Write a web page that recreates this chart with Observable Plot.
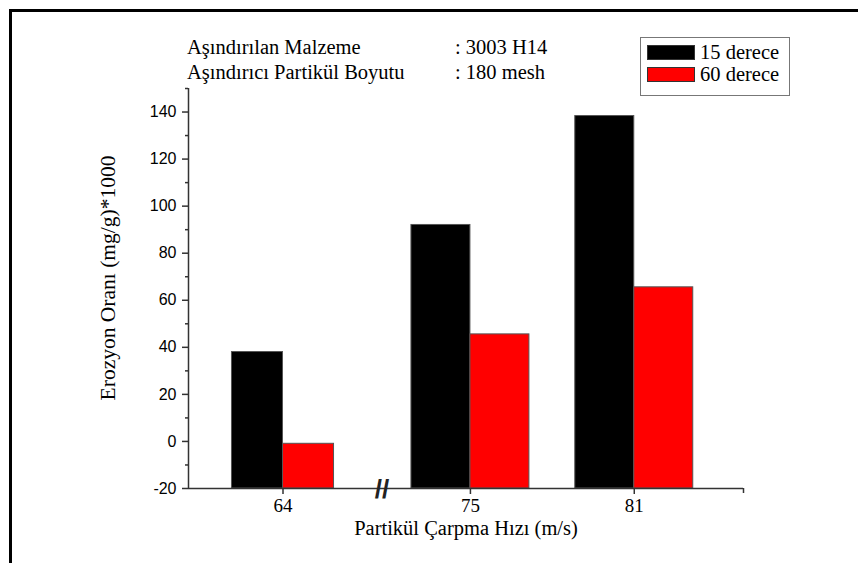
<!DOCTYPE html>
<html>
<head>
<meta charset="utf-8">
<script src="https://cdn.jsdelivr.net/npm/d3@7"></script>
<script src="https://cdn.jsdelivr.net/npm/@observablehq/plot@0.6"></script>
<style>
  body { margin: 0; background: #fff; }
  #wrap { position: relative; width: 859px; height: 563px; overflow: hidden; background: #fff;
          font-family: "Liberation Serif", "Times New Roman", serif; color: #000; }
  #wrap svg { position: absolute; left: 0; top: 0; }
  .frame-top { position: absolute; left: 9px; top: 9px; width: 849px; height: 3px; background: #000; }
  .frame-left { position: absolute; left: 9px; top: 9px; width: 3px; height: 554px; background: #000; }
  .note { position: absolute; font-size: 20.5px; line-height: 25px; white-space: nowrap; }
  .legend { position: absolute; left: 640px; top: 37px; width: 148px; height: 57px; border: 1px solid #777; background: #fff; }
  .legend .item { position: absolute; left: 6px; height: 16px; display: flex; align-items: center; font-size: 20.5px; white-space: nowrap; }
  .legend .sw { width: 46px; height: 13px; border: 1px solid #333; margin-right: 5px; }
  .title-x { position: absolute; left: 0; width: 932px; top: 517px; text-align: center; font-size: 20.5px; line-height: 22px; white-space: nowrap; }
  .title-y { position: absolute; left: 108px; top: 278px; font-size: 21.5px; white-space: nowrap;
             transform: translate(-50%, -50%) rotate(-90deg); }
</style>
</head>
<body>
<div id="wrap">
  <div class="frame-top"></div>
  <div class="frame-left"></div>
</div>
<script>
// Impact speeds (m/s) and the two impingement angles
const speeds = [64, 75, 81];
const angles = ["15 derece", "60 derece"];
const erosion15 = [38, 92, 138.3];
const erosion60 = [-1, 45.5, 65.5];
const colors = ["#000000", "#ff0000"];

const yTicks = [-20, 0, 20, 40, 60, 80, 100, 120, 140];
const yMinor = [-10, 10, 30, 50, 70, 90, 110, 130, 150];
const xTicks = speeds;

const noteLabels = ["Aşındırılan Malzeme", "Aşındırıcı Partikül Boyutu"];
const noteValues = [": 3003 H14", ": 180 mesh"];
const xTitle = "Partikül Çarpma Hızı (m/s)";
const yTitle = "Erozyon Oranı (mg/g)*1000";

// Bar width in speed units; the 15° bar sits left of the tick, the 60° bar right of it
const barW = 2.16;
const yBase = -20;

const rows = speeds.flatMap((s, i) => [
  {speed: s, angle: angles[0], value: erosion15[i], x1: s - barW, x2: s},
  {speed: s, angle: angles[1], value: erosion60[i], x1: s, x2: s + barW}
]);

const serif = "Liberation Serif, Times New Roman, serif";
const sans = "Liberation Sans, Arial, sans-serif";
const axisColor = "#333";

// Broken x axis: 60–68 and 72–85 mapped piecewise, the gap marked with //
const chart = Plot.plot({
  width: 859,
  height: 563,
  marginLeft: 188,
  marginRight: 116,
  marginTop: 88,
  marginBottom: 75,
  style: {background: "transparent", overflow: "visible"},
  x: {type: "linear", domain: [60, 68, 72, 85], range: [188, 377, 388, 743]},
  y: {domain: [yBase, 150]},
  color: {domain: angles, range: colors},
  marks: [
    Plot.rectY(rows, {x1: "x1", x2: "x2", y1: yBase, y2: "value", fill: "angle", stroke: "#555", strokeWidth: 1}),
    Plot.ruleY([yBase], {x1: 60, x2: 85, stroke: axisColor, strokeWidth: 1.5}),
    Plot.ruleX([60], {y1: yBase, y2: 150, stroke: axisColor, strokeWidth: 1.5}),
    Plot.axisY({ticks: yTicks, tickSize: 6, tickPadding: 6, tickFormat: d => String(d),
                fontSize: 16, fontFamily: sans, label: null, stroke: axisColor, strokeWidth: 1.5, color: "#000"}),
    Plot.axisY({ticks: yMinor, tickSize: 3, text: null, label: null, stroke: axisColor, strokeWidth: 1.5}),
    Plot.axisX({ticks: xTicks, tickSize: 6, tickPadding: 4, tickFormat: d => String(d),
                fontSize: 19, fontFamily: serif, label: null, stroke: axisColor, strokeWidth: 1.5, color: "#000"}),
    Plot.axisX({ticks: [85], tickSize: 5, text: null, label: null, stroke: axisColor, strokeWidth: 1.5}),
    Plot.text([69.6], {x: d => d, y: yBase, text: () => "//", fontSize: 26, fontWeight: 600,
                       fontFamily: sans, fill: "#222", dy: 1})
  ]
});

const wrap = document.getElementById("wrap");
wrap.appendChild(chart);

// Material / particle notes above the plot
noteLabels.forEach((t, i) => {
  const a = document.createElement("div");
  a.className = "note";
  a.style.left = "187px";
  a.style.top = (35 + i * 25) + "px";
  a.textContent = t;
  wrap.appendChild(a);
  const b = document.createElement("div");
  b.className = "note";
  b.style.left = "455px";
  b.style.top = (35 + i * 25) + "px";
  b.textContent = noteValues[i];
  wrap.appendChild(b);
});

// Legend box
const legend = document.createElement("div");
legend.className = "legend";
angles.forEach((a, i) => {
  const item = document.createElement("div");
  item.className = "item";
  item.style.top = (6 + i * 22) + "px";
  const sw = document.createElement("div");
  sw.className = "sw";
  sw.style.background = colors[i];
  item.appendChild(sw);
  item.appendChild(document.createTextNode(a));
  legend.appendChild(item);
});
wrap.appendChild(legend);

// Axis titles
const tx = document.createElement("div");
tx.className = "title-x";
tx.textContent = xTitle;
wrap.appendChild(tx);
const ty = document.createElement("div");
ty.className = "title-y";
ty.textContent = yTitle;
wrap.appendChild(ty);
</script>
</body>
</html>
